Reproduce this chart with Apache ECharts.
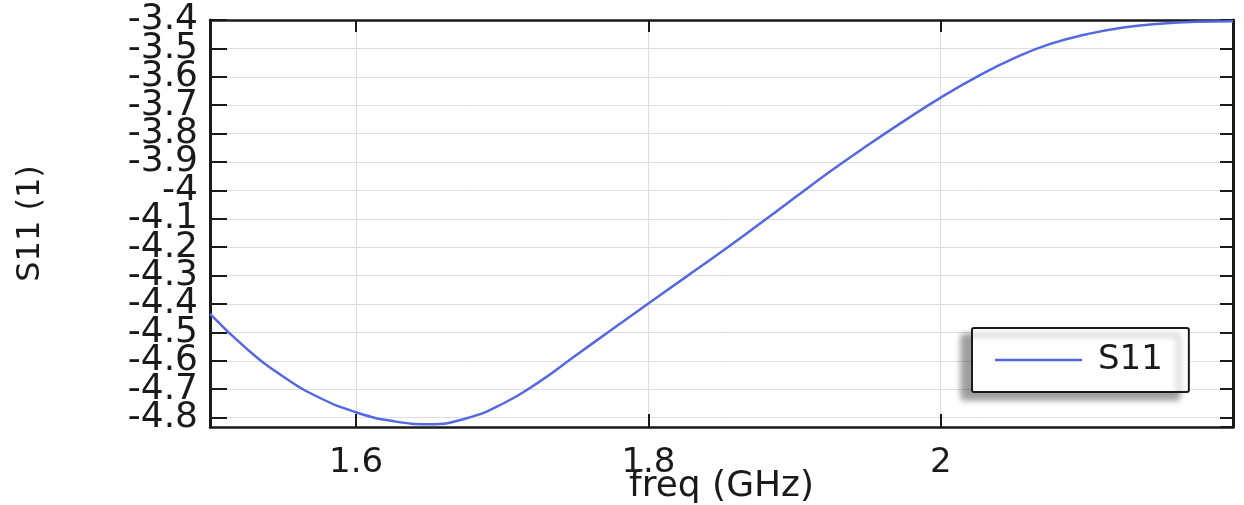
<!DOCTYPE html>
<html>
<head>
<meta charset="utf-8">
<title>S11</title>
<script src="https://cdn.jsdelivr.net/npm/echarts@6/dist/echarts.min.js"></script>
<style>
  html, body { margin: 0; padding: 0; background: #ffffff; }
  #chart { width: 1244px; height: 505px; }
</style>
</head>
<body>
<div id="chart"></div>
<script>
// Frequency sweep (GHz) and the S11 response at each step
const freqGHz = [
  1.500, 1.525, 1.550, 1.575, 1.600, 1.625, 1.650, 1.675, 1.700, 1.725,
  1.750, 1.775, 1.800, 1.825, 1.850, 1.875, 1.900, 1.925, 1.950, 1.975,
  2.000, 2.025, 2.050, 2.075, 2.100, 2.125, 2.150, 2.175, 2.200
];
const s11 = [
  -4.435, -4.557, -4.655, -4.730, -4.781, -4.812, -4.823, -4.803, -4.752, -4.675,
  -4.582, -4.490, -4.398, -4.307, -4.216, -4.122, -4.026, -3.931, -3.841, -3.755,
  -3.673, -3.599, -3.535, -3.484, -3.450, -3.426, -3.413, -3.406, -3.404
];

// Axis ranges and tick spacing (the upper S11 limit sits a hair above the -3.4 tick)
const freqRange = [1.5, 2.2];
const freqStep = 0.2;
const s11Range = [-4.833, -3.3999];
const s11Step = 0.1;

const seriesName = 'S11';
const xTitle = 'freq (GHz)';
const yTitle = 'S11 (1)';

const FONT = 'DejaVu Sans';
const INK = '#1a1a1a';
const GRID_GREY = '#dedede';
const CURVE = '#5468e0';

const chart = echarts.init(document.getElementById('chart'), null, { renderer: 'canvas' });

// Shared settings for an axis drawn with a fixed step but non-aligned limits
function steppedAxis(range, step, count) {
  return {
    type: 'value',
    min: range[0],
    max: range[1],
    splitNumber: count,
    minInterval: step,
    maxInterval: step
  };
}

const option = {
  backgroundColor: '#ffffff',
  animation: false,
  grid: {
    left: 210, right: 11, top: 20, bottom: 78,
    containLabel: false,
    outerBoundsMode: 'none'
  },
  legend: {
    data: [{ name: seriesName, icon: 'rect' }],
    left: 972,
    top: 328,
    orient: 'horizontal',
    itemWidth: 87,
    itemHeight: 2.5,
    padding: [14, 26, 14, 23],
    backgroundColor: '#ffffff',
    borderColor: INK,
    borderWidth: 2,
    borderRadius: 2,
    shadowColor: 'rgba(0,0,0,0.38)',
    shadowBlur: 6,
    shadowOffsetX: -10,
    shadowOffsetY: 7,
    textStyle: {
      fontFamily: FONT,
      fontSize: 34,
      color: INK,
      lineHeight: 36,
      padding: [0, 0, 0, 11]
    }
  },
  xAxis: [
    Object.assign(steppedAxis(freqRange, freqStep, 4), {
      position: 'bottom',
      name: xTitle,
      nameLocation: 'middle',
      nameGap: 42,
      nameMoveOverlap: false,
      nameTextStyle: { fontFamily: FONT, fontSize: 36, color: INK, verticalAlign: 'top' },
      axisLine: { show: true, onZero: false, lineStyle: { color: INK, width: 2.5 } },
      axisTick: { show: true, inside: true, length: 13, lineStyle: { color: INK, width: 2 } },
      axisLabel: {
        show: true, margin: 19, fontFamily: FONT, fontSize: 34, color: INK,
        showMinLabel: false, showMaxLabel: false, hideOverlap: false
      },
      splitLine: { show: true, lineStyle: { color: GRID_GREY, width: 1 } }
    }),
    Object.assign(steppedAxis(freqRange, freqStep, 4), {
      position: 'top',
      axisLine: { show: true, onZero: false, lineStyle: { color: INK, width: 2.5 } },
      axisTick: { show: true, inside: true, length: 12, lineStyle: { color: INK, width: 2 } },
      axisLabel: { show: false },
      splitLine: { show: false }
    })
  ],
  yAxis: [
    Object.assign(steppedAxis(s11Range, s11Step, 14), {
      position: 'left',
      name: yTitle,
      nameLocation: 'middle',
      nameGap: 163,
      nameRotate: 90,
      nameMoveOverlap: false,
      nameTextStyle: { fontFamily: FONT, fontSize: 32, color: INK },
      axisLine: { show: true, onZero: false, lineStyle: { color: INK, width: 3 } },
      axisTick: { show: true, inside: true, length: 17, lineStyle: { color: INK, width: 2 } },
      axisLabel: {
        show: true, margin: 12, fontFamily: FONT, fontSize: 36, color: INK,
        lineHeight: 26, showMinLabel: false, showMaxLabel: false, hideOverlap: false
      },
      splitLine: { show: true, lineStyle: { color: GRID_GREY, width: 1 } }
    }),
    Object.assign(steppedAxis(s11Range, s11Step, 14), {
      position: 'right',
      axisLine: { show: true, onZero: false, lineStyle: { color: INK, width: 3 } },
      axisTick: { show: true, inside: true, length: 13, lineStyle: { color: INK, width: 2 } },
      axisLabel: { show: false },
      splitLine: { show: false }
    })
  ],
  series: [
    {
      name: seriesName,
      type: 'line',
      xAxisIndex: 0,
      yAxisIndex: 0,
      data: freqGHz.map((f, i) => [f, s11[i]]),
      smooth: true,
      symbol: 'none',
      clip: true,
      lineStyle: { color: CURVE, width: 2.5 },
      itemStyle: { color: CURVE }
    }
  ]
};

chart.setOption(option);
</script>
</body>
</html>
